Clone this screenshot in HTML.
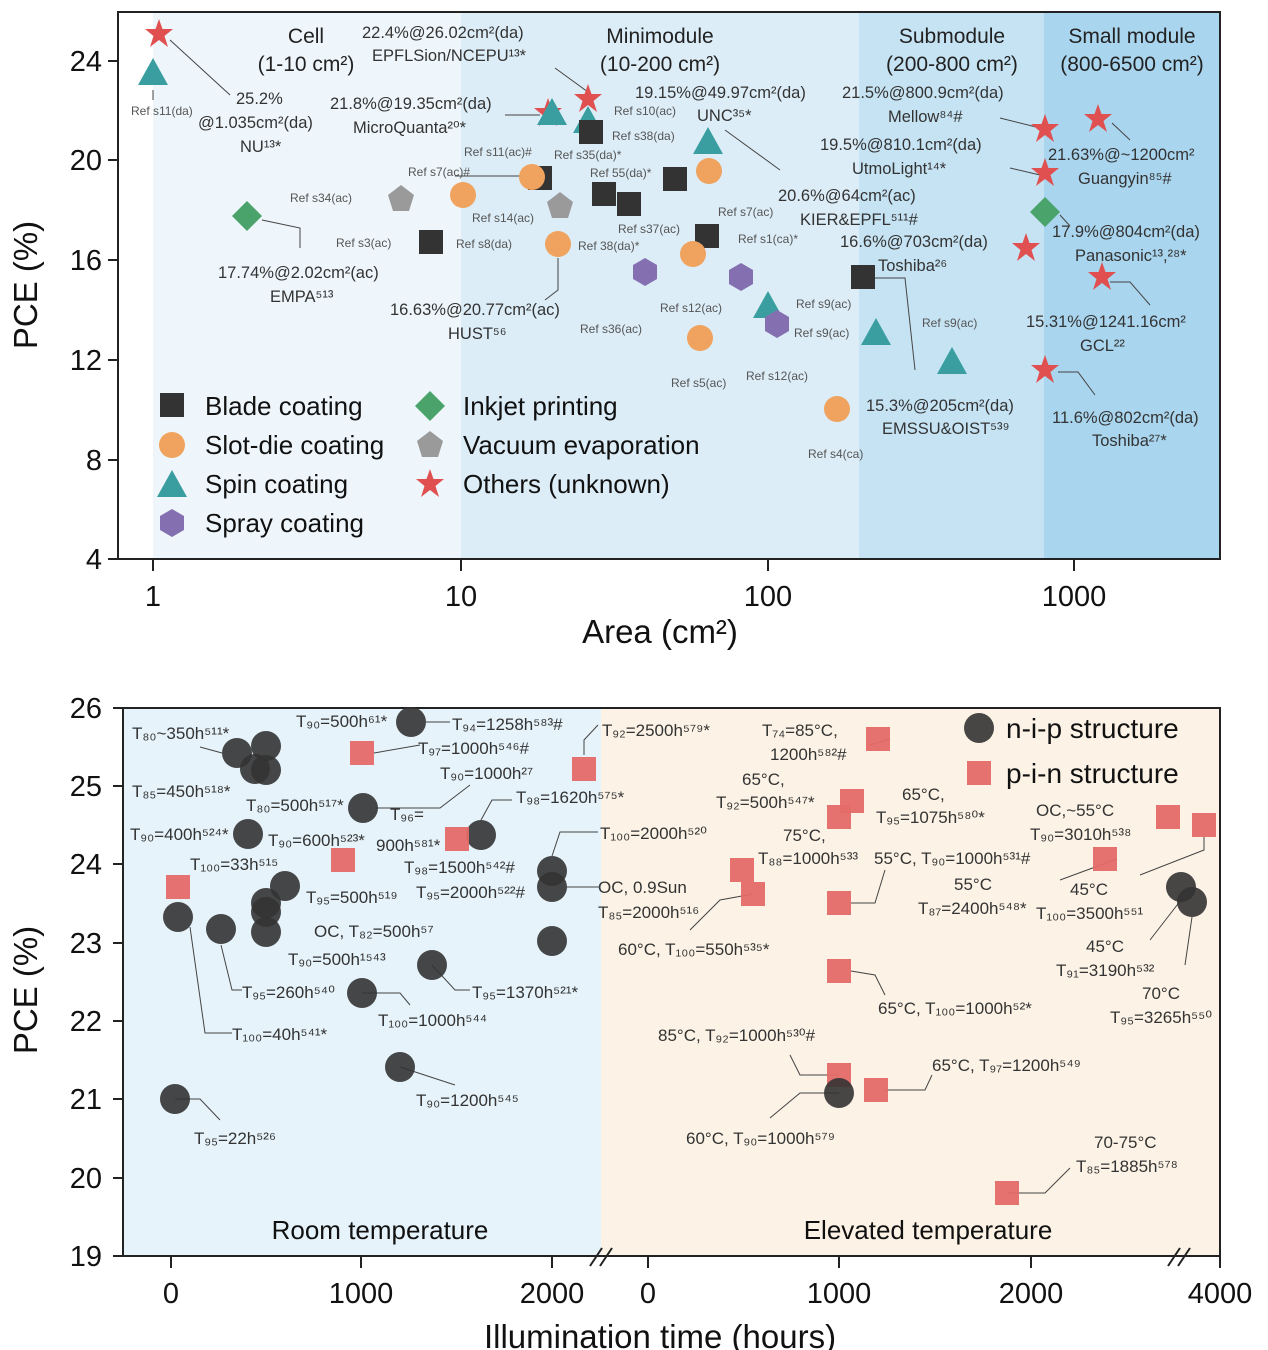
<!DOCTYPE html>
<html><head><meta charset="utf-8"><style>
html,body{margin:0;padding:0;background:#fff}
svg{display:block;font-family:"Liberation Sans","DejaVu Sans",sans-serif}
.a{font-size:16.5px;fill:#333}
.r{font-size:12px;fill:#555}
.h{font-size:21px;fill:#222}
.l{stroke:#444;stroke-width:1;fill:none}
.ax{font-size:33px;fill:#111}
.tk{font-size:29px;fill:#111}
.sq{fill:#333}.ci{fill:#f0a35e}.tr{fill:#3a9ea0}.hx{fill:#8470b0}.pe{fill:#9a9a9a}.di{fill:#4aa36a}.st{fill:#e05050}
.dc{fill:#333;opacity:.9}.rs{fill:#e56a68;opacity:.95}
</style></head><body>
<svg width="1268" height="1350" viewBox="0 0 1268 1350">
<defs>
<rect id="S" x="-12" y="-12" width="24" height="24"/>
<circle id="C" r="13"/>
<polygon id="T" points="0,-15 15,12 -15,12"/>
<polygon id="H" points="0,-14 12,-7 12,7 0,14 -12,7 -12,-7"/>
<polygon id="P" points="0,-14 13,-4 8,12 -8,12 -13,-4"/>
<polygon id="D" points="0,-15 15,0 0,15 -15,0"/>
<polygon id="R" points="0,-15 3.5,-5 14,-5 5.5,2 9,13 0,6 -9,13 -5.5,2 -14,-5 -3.5,-5"/>
<circle id="N" r="15"/>
<rect id="Q" x="-12" y="-12" width="24" height="24"/>
</defs>
<!-- TOP -->
<rect x="153" y="12" width="308" height="547" fill="#eef6fb"/>
<rect x="461" y="12" width="398" height="547" fill="#dcedf7"/>
<rect x="859" y="12" width="185" height="547" fill="#c6e3f3"/>
<rect x="1044" y="12" width="176" height="547" fill="#a9d5ee"/>
<rect x="118" y="12" width="1102" height="547" fill="none" stroke="#222" stroke-width="2"/>
<g stroke="#222" stroke-width="2">
<line x1="118" y1="61" x2="108" y2="61"/><line x1="118" y1="160" x2="108" y2="160"/><line x1="118" y1="260" x2="108" y2="260"/><line x1="118" y1="360" x2="108" y2="360"/><line x1="118" y1="460" x2="108" y2="460"/><line x1="118" y1="559" x2="108" y2="559"/>
<line x1="153" y1="559" x2="153" y2="571"/><line x1="461" y1="559" x2="461" y2="571"/><line x1="768" y1="559" x2="768" y2="571"/><line x1="1074" y1="559" x2="1074" y2="571"/>
</g>
<g class="tk" text-anchor="end"><text x="102" y="71">24</text><text x="102" y="170">20</text><text x="102" y="270">16</text><text x="102" y="370">12</text><text x="102" y="470">8</text><text x="102" y="569">4</text></g>
<g class="tk" text-anchor="middle"><text x="153" y="606">1</text><text x="461" y="606">10</text><text x="768" y="606">100</text><text x="1074" y="606">1000</text></g>
<text class="ax" x="660" y="643" text-anchor="middle">Area (cm²)</text>
<text class="ax" transform="translate(37,285) rotate(-90)" text-anchor="middle">PCE (%)</text>
<g class="h" text-anchor="middle">
<text x="306" y="43">Cell</text><text x="306" y="71">(1-10 cm²)</text>
<text x="660" y="43">Minimodule</text><text x="660" y="71">(10-200 cm²)</text>
<text x="952" y="43">Submodule</text><text x="952" y="71">(200-800 cm²)</text>
<text x="1132" y="43">Small module</text><text x="1132" y="71">(800-6500 cm²)</text>
</g>
<g class="a">
<text x="236" y="104">25.2%</text><text x="198" y="128">@1.035cm²(da)</text><text x="240" y="152">NU¹³*</text>
<text x="362" y="38">22.4%@26.02cm²(da)</text><text x="372" y="61">EPFLSion/NCEPU¹³*</text>
<text x="330" y="109">21.8%@19.35cm²(da)</text><text x="353" y="133">MicroQuanta²⁰*</text>
<text x="635" y="98">19.15%@49.97cm²(da)</text><text x="697" y="121">UNC³⁵*</text>
<text x="842" y="98">21.5%@800.9cm²(da)</text><text x="888" y="122">Mellow⁸⁴#</text>
<text x="820" y="150">19.5%@810.1cm²(da)</text><text x="852" y="174">UtmoLight¹⁴*</text>
<text x="1048" y="160">21.63%@~1200cm²</text><text x="1078" y="184">Guangyin⁸⁵#</text>
<text x="778" y="201">20.6%@64cm²(ac)</text><text x="800" y="225">KIER&amp;EPFL⁵¹¹#</text>
<text x="840" y="247">16.6%@703cm²(da)</text><text x="878" y="271">Toshiba²⁶</text>
<text x="1052" y="237">17.9%@804cm²(da)</text><text x="1075" y="261">Panasonic¹³,²⁸*</text>
<text x="218" y="278">17.74%@2.02cm²(ac)</text><text x="270" y="302">EMPA⁵¹³</text>
<text x="390" y="315">16.63%@20.77cm²(ac)</text><text x="448" y="339">HUST⁵⁶</text>
<text x="1026" y="327">15.31%@1241.16cm²</text><text x="1080" y="351">GCL²²</text>
<text x="866" y="411">15.3%@205cm²(da)</text><text x="882" y="434">EMSSU&amp;OIST⁵³⁹</text>
<text x="1052" y="423">11.6%@802cm²(da)</text><text x="1092" y="446">Toshiba²⁷*</text>
</g>
<g class="r">
<text x="131" y="115">Ref s11(da)</text><text x="614" y="115">Ref s10(ac)</text><text x="612" y="140">Ref s38(da)</text>
<text x="464" y="156">Ref s11(ac)#</text><text x="554" y="159">Ref s35(da)*</text><text x="408" y="176">Ref s7(ac)#</text>
<text x="590" y="177">Ref 55(da)*</text><text x="290" y="202">Ref s34(ac)</text><text x="472" y="222">Ref s14(ac)</text>
<text x="718" y="216">Ref s7(ac)</text><text x="618" y="233">Ref s37(ac)</text><text x="336" y="247">Ref s3(ac)</text>
<text x="456" y="248">Ref s8(da)</text><text x="578" y="250">Ref 38(da)*</text><text x="738" y="243">Ref s1(ca)*</text>
<text x="660" y="312">Ref s12(ac)</text><text x="796" y="308">Ref s9(ac)</text><text x="580" y="333">Ref s36(ac)</text>
<text x="794" y="337">Ref s9(ac)</text><text x="922" y="327">Ref s9(ac)</text><text x="746" y="380">Ref s12(ac)</text>
<text x="671" y="387">Ref s5(ac)</text><text x="808" y="458">Ref s4(ca)</text>
</g>
<g class="l">
<polyline points="170,40 230,95"/><polyline points="555,68 588,92"/><polyline points="505,115 540,115"/>
<polyline points="725,130 780,170"/><polyline points="1000,118 1040,128"/><polyline points="1010,168 1040,175"/>
<polyline points="1112,123 1130,140"/><polyline points="1060,215 1070,226"/><polyline points="262,220 300,228 300,248"/>
<polyline points="870,278 905,278 915,370"/><polyline points="1110,282 1130,282 1150,305"/><polyline points="1058,372 1078,372 1095,395"/>
<polyline points="558,258 558,290 545,300"/><polyline points="153,90 153,100"/><polyline points="455,176 520,176"/>
</g>
<g>
<use href="#R" class="st" x="159" y="34"/><use href="#R" class="st" x="548" y="113"/><use href="#R" class="st" x="588" y="99"/>
<use href="#R" class="st" x="1045" y="129"/><use href="#R" class="st" x="1045" y="173"/><use href="#R" class="st" x="1098" y="119"/>
<use href="#R" class="st" x="1026" y="248"/><use href="#R" class="st" x="1102" y="277"/><use href="#R" class="st" x="1045" y="370"/>
<use href="#T" class="tr" x="153" y="73"/><use href="#T" class="tr" x="552" y="113"/><use href="#T" class="tr" x="588" y="121"/>
<use href="#T" class="tr" x="708" y="142"/><use href="#T" class="tr" x="768" y="306"/><use href="#T" class="tr" x="876" y="333"/><use href="#T" class="tr" x="952" y="362"/>
<use href="#S" class="sq" x="540" y="178"/><use href="#S" class="sq" x="591" y="132"/><use href="#S" class="sq" x="604" y="194"/>
<use href="#S" class="sq" x="629" y="204"/><use href="#S" class="sq" x="431" y="242"/><use href="#S" class="sq" x="675" y="179"/>
<use href="#S" class="sq" x="707" y="236"/><use href="#S" class="sq" x="863" y="277"/>
<use href="#C" class="ci" x="463" y="195"/><use href="#C" class="ci" x="532" y="177"/><use href="#C" class="ci" x="558" y="244"/>
<use href="#C" class="ci" x="709" y="171"/><use href="#C" class="ci" x="693" y="254"/><use href="#C" class="ci" x="700" y="338"/><use href="#C" class="ci" x="837" y="409"/>
<use href="#H" class="hx" x="645" y="272"/><use href="#H" class="hx" x="741" y="277"/><use href="#H" class="hx" x="777" y="324"/>
<use href="#P" class="pe" x="401" y="199"/><use href="#P" class="pe" x="560" y="206"/>
<use href="#D" class="di" x="247" y="216"/><use href="#D" class="di" x="1045" y="212"/>
</g>
<g font-size="26" fill="#111">
<use href="#S" class="sq" x="172" y="405"/><text x="205" y="415">Blade coating</text>
<use href="#C" class="ci" x="172" y="445"/><text x="205" y="454">Slot-die coating</text>
<use href="#T" class="tr" x="172" y="485"/><text x="205" y="493">Spin coating</text>
<use href="#H" class="hx" x="172" y="523"/><text x="205" y="532">Spray coating</text>
<use href="#D" class="di" x="430" y="406"/><text x="463" y="415">Inkjet printing</text>
<use href="#P" class="pe" x="430" y="445"/><text x="463" y="454">Vacuum evaporation</text>
<use href="#R" class="st" x="430" y="484"/><text x="463" y="493">Others (unknown)</text>
</g>
<!-- BOTTOM -->
<rect x="123" y="708" width="478" height="548" fill="#e6f3fa"/>
<rect x="601" y="708" width="619" height="548" fill="#fcf3e6"/>
<polyline points="123,708 1220,708 1220,1256 123,1256 123,708" fill="none" stroke="#222" stroke-width="2"/>
<g stroke="#222" stroke-width="2">
<line x1="123" y1="708" x2="113" y2="708"/><line x1="123" y1="786" x2="113" y2="786"/><line x1="123" y1="864" x2="113" y2="864"/><line x1="123" y1="943" x2="113" y2="943"/><line x1="123" y1="1021" x2="113" y2="1021"/><line x1="123" y1="1099" x2="113" y2="1099"/><line x1="123" y1="1178" x2="113" y2="1178"/><line x1="123" y1="1256" x2="113" y2="1256"/>
<line x1="171" y1="1256" x2="171" y2="1268"/><line x1="361" y1="1256" x2="361" y2="1268"/><line x1="552" y1="1256" x2="552" y2="1268"/>
<line x1="648" y1="1256" x2="648" y2="1268"/><line x1="839" y1="1256" x2="839" y2="1268"/><line x1="1031" y1="1256" x2="1031" y2="1268"/><line x1="1220" y1="1256" x2="1220" y2="1268"/>
<line x1="590" y1="1266" x2="602" y2="1248"/><line x1="600" y1="1266" x2="612" y2="1248"/>
<line x1="1168" y1="1266" x2="1180" y2="1248"/><line x1="1178" y1="1266" x2="1190" y2="1248"/>
</g>
<g class="tk" text-anchor="end"><text x="102" y="718">26</text><text x="102" y="796">25</text><text x="102" y="874">24</text><text x="102" y="953">23</text><text x="102" y="1031">22</text><text x="102" y="1109">21</text><text x="102" y="1188">20</text><text x="102" y="1266">19</text></g>
<g class="tk" text-anchor="middle"><text x="171" y="1303">0</text><text x="361" y="1303">1000</text><text x="552" y="1303">2000</text><text x="648" y="1303">0</text><text x="839" y="1303">1000</text><text x="1031" y="1303">2000</text><text x="1220" y="1303">4000</text></g>
<text class="ax" x="660" y="1348" text-anchor="middle">Illumination time (hours)</text>
<text class="ax" transform="translate(37,990) rotate(-90)" text-anchor="middle">PCE (%)</text>
<text x="380" y="1239" font-size="26" fill="#111" text-anchor="middle">Room temperature</text>
<text x="928" y="1239" font-size="26" fill="#111" text-anchor="middle">Elevated temperature</text>
<use href="#N" class="dc" x="979" y="728"/><text x="1006" y="738" font-size="28" fill="#111">n-i-p structure</text>
<use href="#Q" class="rs" x="979" y="773"/><text x="1006" y="783" font-size="28" fill="#111">p-i-n structure</text>
<g class="a" style="font-size:17px">
<text x="132" y="739">T₈₀~350h⁵¹¹*</text><text x="296" y="727">T₉₀=500h⁶¹*</text><text x="452" y="730">T₉₄=1258h⁵⁸³#</text>
<text x="418" y="754">T₉₇=1000h⁵⁴⁶#</text><text x="440" y="779">T₉₀=1000h²⁷</text><text x="132" y="797">T₈₅=450h⁵¹⁸*</text>
<text x="516" y="803">T₉₈=1620h⁵⁷⁵*</text><text x="246" y="811">T₈₀=500h⁵¹⁷*</text><text x="390" y="820">T₉₆=</text>
<text x="130" y="840">T₉₀=400h⁵²⁴*</text><text x="268" y="846">T₉₀=600h⁵²³*</text><text x="376" y="851">900h⁵⁸¹*</text>
<text x="600" y="839">T₁₀₀=2000h⁵²⁰</text><text x="190" y="870">T₁₀₀=33h⁵¹⁵</text><text x="404" y="873">T₉₈=1500h⁵⁴²#</text>
<text x="306" y="903">T₉₅=500h⁵¹⁹</text><text x="416" y="898">T₉₅=2000h⁵²²#</text><text x="598" y="893">OC, 0.9Sun</text>
<text x="598" y="918">T₈₅=2000h⁵¹⁶</text><text x="314" y="937">OC, T₈₂=500h⁵⁷</text><text x="288" y="965">T₉₀=500h¹⁵⁴³</text>
<text x="242" y="998">T₉₅=260h⁵⁴⁰</text><text x="472" y="998">T₉₅=1370h⁵²¹*</text><text x="378" y="1026">T₁₀₀=1000h⁵⁴⁴</text>
<text x="232" y="1040">T₁₀₀=40h⁵⁴¹*</text><text x="416" y="1106">T₉₀=1200h⁵⁴⁵</text><text x="194" y="1144">T₉₅=22h⁵²⁶</text>
<text x="602" y="736">T₉₂=2500h⁵⁷⁹*</text><text x="762" y="736">T₇₄=85°C,</text><text x="770" y="760">1200h⁵⁸²#</text>
<text x="742" y="785">65°C,</text><text x="716" y="808">T₉₂=500h⁵⁴⁷*</text><text x="902" y="800">65°C,</text><text x="876" y="823">T₉₅=1075h⁵⁸⁰*</text>
<text x="783" y="841">75°C,</text><text x="758" y="864">T₈₈=1000h⁵³³</text><text x="874" y="864">55°C, T₉₀=1000h⁵³¹#</text>
<text x="1036" y="816">OC,~55°C</text><text x="1030" y="840">T₉₀=3010h⁵³⁸</text><text x="954" y="890">55°C</text>
<text x="918" y="914">T₈₇=2400h⁵⁴⁸*</text><text x="1070" y="895">45°C</text><text x="1036" y="919">T₁₀₀=3500h⁵⁵¹</text>
<text x="618" y="955">60°C, T₁₀₀=550h⁵³⁵*</text><text x="1086" y="952">45°C</text><text x="1056" y="976">T₉₁=3190h⁵³²</text>
<text x="1142" y="999">70°C</text><text x="1110" y="1023">T₉₅=3265h⁵⁵⁰</text><text x="878" y="1014">65°C, T₁₀₀=1000h⁵²*</text>
<text x="658" y="1041">85°C, T₉₂=1000h⁵³⁰#</text><text x="932" y="1071">65°C, T₉₇=1200h⁵⁴⁹</text>
<text x="686" y="1144">60°C, T₉₀=1000h⁵⁷⁹</text><text x="1094" y="1148">70-75°C</text><text x="1076" y="1172">T₈₅=1885h⁵⁷⁸</text>
</g>
<g class="l">
<polyline points="200,747 222,753"/><polyline points="190,927 205,1033 232,1033"/><polyline points="221,945 232,990 242,990"/>
<polyline points="175,1099 200,1099 220,1120"/><polyline points="400,1067 455,1085"/><polyline points="362,993 400,993 410,1005"/>
<polyline points="432,965 455,990 470,990"/><polyline points="426,722 450,722"/><polyline points="374,753 420,745"/>
<polyline points="376,808 440,808 470,785"/><polyline points="481,820 492,800 512,800"/><polyline points="552,856 560,832 598,832"/>
<polyline points="567,887 600,887"/><polyline points="584,755 584,740 598,725"/><polyline points="1007,1193 1045,1193 1070,1168"/>
<polyline points="885,1090 925,1090 932,1075"/><polyline points="839,1075 800,1075 790,1055"/><polyline points="839,1093 800,1093 770,1118"/>
<polyline points="851,971 875,975 885,995"/><polyline points="851,903 875,903 885,870"/><polyline points="753,894 720,900 690,930"/>
<polyline points="1117,859 1060,880"/><polyline points="1204,837 1204,850 1140,875"/><polyline points="1181,900 1150,940"/>
<polyline points="1192,917 1185,965"/><polyline points="890,739 870,745"/>
</g>
<g>
<use href="#N" class="dc" x="237" y="753"/><use href="#N" class="dc" x="266" y="746"/><use href="#N" class="dc" x="255" y="769"/><use href="#N" class="dc" x="266" y="770"/>
<use href="#N" class="dc" x="411" y="722"/><use href="#N" class="dc" x="363" y="808"/><use href="#N" class="dc" x="248" y="834"/><use href="#N" class="dc" x="481" y="835"/>
<use href="#N" class="dc" x="285" y="886"/><use href="#N" class="dc" x="266" y="903"/><use href="#N" class="dc" x="266" y="912"/><use href="#N" class="dc" x="266" y="932"/>
<use href="#N" class="dc" x="178" y="917"/><use href="#N" class="dc" x="221" y="929"/><use href="#N" class="dc" x="432" y="965"/><use href="#N" class="dc" x="362" y="993"/>
<use href="#N" class="dc" x="400" y="1067"/><use href="#N" class="dc" x="175" y="1099"/><use href="#N" class="dc" x="552" y="871"/><use href="#N" class="dc" x="552" y="887"/><use href="#N" class="dc" x="552" y="941"/>
<use href="#Q" class="rs" x="362" y="753"/><use href="#Q" class="rs" x="584" y="769"/><use href="#Q" class="rs" x="343" y="860"/><use href="#Q" class="rs" x="457" y="839"/><use href="#Q" class="rs" x="178" y="887"/>
<use href="#Q" class="rs" x="878" y="739"/><use href="#Q" class="rs" x="852" y="801"/><use href="#Q" class="rs" x="839" y="817"/><use href="#Q" class="rs" x="742" y="870"/>
<use href="#Q" class="rs" x="753" y="894"/><use href="#Q" class="rs" x="839" y="903"/><use href="#Q" class="rs" x="1105" y="859"/><use href="#Q" class="rs" x="1168" y="817"/>
<use href="#Q" class="rs" x="1204" y="825"/><use href="#Q" class="rs" x="839" y="971"/><use href="#Q" class="rs" x="839" y="1075"/><use href="#Q" class="rs" x="876" y="1090"/><use href="#Q" class="rs" x="1007" y="1193"/>
<use href="#N" class="dc" x="839" y="1093"/><use href="#N" class="dc" x="1181" y="887"/><use href="#N" class="dc" x="1192" y="902"/>
</g>
</svg>
</body></html>
